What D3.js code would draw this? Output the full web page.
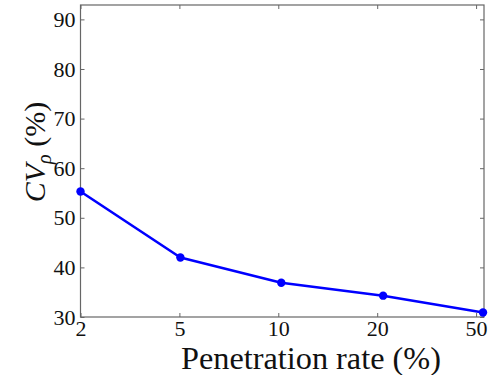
<!DOCTYPE html>
<html>
<head>
<meta charset="utf-8">
<script src="https://cdn.jsdelivr.net/npm/d3@7"></script>
<style>
  body { margin: 0; background: #fff; }
  svg { display: block; }
  text { font-family: "Liberation Serif", "DejaVu Serif", serif; fill: #111; }
</style>
</head>
<body>
<svg id="chart" width="491" height="375"></svg>
<script>
// data
var tickLabels = ['2', '5', '10', '20', '50'];
var xPos = [1, 2.01, 3.03, 4.06, 5.07];       // where each point sits on the index axis
var cvValues = [55.3, 42.0, 36.9, 34.3, 30.9];
var yTicks = [30, 40, 50, 60, 70, 80, 90];

var margin = { top: 5, right: 7, bottom: 58, left: 80.5 };
var width = 491, height = 375;
var innerW = width - margin.left - margin.right;
var innerH = height - margin.top - margin.bottom;
var serif = '"Liberation Serif", "DejaVu Serif", serif';

var svg = d3.select('#chart');
var g = svg.append('g').attr('transform', `translate(${margin.left},${margin.top})`);

var xScale = d3.scaleLinear().domain([1, 5.08]).range([0, innerW]);
var yScale = d3.scaleLinear().domain([30, 92.9]).range([innerH, 0]);

var axisColor = '#666';
var tickLen = 4;

// box
g.append('rect')
  .attr('width', innerW).attr('height', innerH)
  .attr('fill', 'none').attr('stroke', axisColor).attr('stroke-width', 1.2);

// y axis left + mirrored right (ticks point inward)
g.append('g')
  .attr('font-family', serif)
  .call(d3.axisLeft(yScale).tickValues(yTicks).tickSize(-tickLen).tickPadding(5))
  .call(a => a.select('.domain').remove())
  .call(a => a.selectAll('line').attr('stroke', axisColor))
  .call(a => a.selectAll('text').style('font-size', '22px').attr('fill', '#111'));
g.append('g')
  .attr('transform', `translate(${innerW},0)`)
  .call(d3.axisRight(yScale).tickValues(yTicks).tickSize(-tickLen).tickFormat(''))
  .call(a => a.select('.domain').remove())
  .call(a => a.selectAll('line').attr('stroke', axisColor));

// x axis bottom + mirrored top
g.append('g')
  .attr('transform', `translate(0,${innerH})`)
  .attr('font-family', serif)
  .call(d3.axisBottom(xScale).tickValues([1, 2, 3, 4, 5])
    .tickFormat((d, i) => tickLabels[i]).tickSize(-tickLen).tickPadding(3))
  .call(a => a.select('.domain').remove())
  .call(a => a.selectAll('line').attr('stroke', axisColor))
  .call(a => a.selectAll('text').style('font-size', '22px').attr('fill', '#111'));
g.append('g')
  .call(d3.axisTop(xScale).tickValues([1, 2, 3, 4, 5]).tickSize(-tickLen).tickFormat(''))
  .call(a => a.select('.domain').remove())
  .call(a => a.selectAll('line').attr('stroke', axisColor));

// the series
var pts = xPos.map((x, i) => ({ x: x, y: cvValues[i] }));
var line = d3.line().x(d => xScale(d.x)).y(d => yScale(d.y));
g.append('path')
  .datum(pts)
  .attr('fill', 'none')
  .attr('stroke', '#0000ff')
  .attr('stroke-width', 2.6)
  .attr('stroke-linejoin', 'round')
  .attr('d', line);
g.selectAll('circle.pt')
  .data(pts)
  .enter().append('circle')
  .attr('class', 'pt')
  .attr('cx', d => xScale(d.x))
  .attr('cy', d => yScale(d.y))
  .attr('r', 4.2)
  .attr('fill', '#0000ff');

// x label
var xl = svg.append('text')
  .attr('x', 311).attr('y', 369)
  .attr('text-anchor', 'middle')
  .style('font-size', '28px')
  .text('Penetration rate (%)');
var w = xl.node().getComputedTextLength();
xl.style('font-size', (28 * 260 / w) + 'px');

// y label: CV_rho (%)
var yl = svg.append('text')
  .attr('transform', 'translate(45,152) rotate(-90)')
  .attr('text-anchor', 'middle')
  .style('font-size', '30px');
yl.append('tspan').style('font-style', 'italic').text('CV');
yl.append('tspan').style('font-style', 'italic').style('font-size', '20px').attr('dy', 6).text('ρ');
yl.append('tspan').attr('dy', -6).text(' (%)');
</script>
</body>
</html>
